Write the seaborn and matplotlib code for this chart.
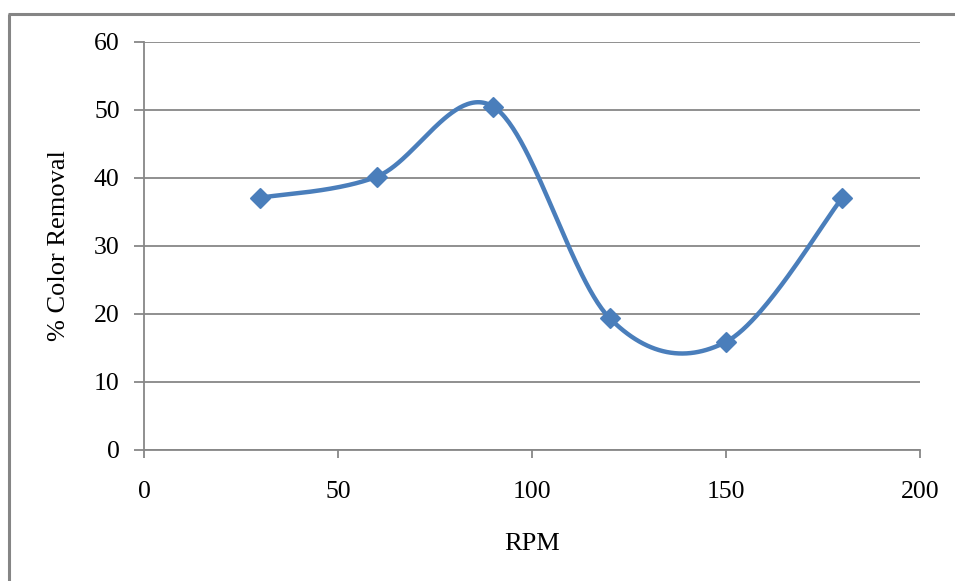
import numpy as np
import pandas as pd
import matplotlib
matplotlib.use("Agg")
import matplotlib.pyplot as plt
from matplotlib.lines import Line2D
import seaborn as sns

# Measured colour removal at each stirring speed
rpm = [30, 60, 90, 120, 150, 180]
color_removal = [37.1, 40.2, 50.5, 19.4, 15.9, 37.1]

x_ticks = [0, 50, 100, 150, 200]
y_ticks = [0, 10, 20, 30, 40, 50, 60]

LINE_BLUE = "#4A7EBB"
GRID_GRAY = "#878787"


def smooth_curve(xs, ys, n=60):
    """Catmull-Rom style Bezier smoothing through every data point."""
    pts = np.column_stack([xs, ys]).astype(float)
    padded = np.vstack([pts[0], pts, pts[-1]])
    t = np.linspace(0.0, 1.0, n)[:, None]
    out = []
    for i in range(len(pts) - 1):
        p0, p1, p2, p3 = padded[i], padded[i + 1], padded[i + 2], padded[i + 3]
        c1 = p1 + (p2 - p0) / 6.0
        c2 = p2 - (p3 - p1) / 6.0
        seg = ((1 - t) ** 3) * p1 + 3 * ((1 - t) ** 2) * t * c1 \
            + 3 * (1 - t) * t ** 2 * c2 + t ** 3 * p2
        out.append(seg if i == 0 else seg[1:])
    return np.vstack(out)


sns.set_theme(style="white")
plt.rcParams["font.family"] = ["Liberation Serif", "DejaVu Serif"]

fig = plt.figure(figsize=(9.55, 5.81), dpi=100)
ax = fig.add_axes([144 / 955, 1 - 450 / 581, 776 / 955, 408 / 581])

curve = smooth_curve(rpm, color_removal)
curve_df = pd.DataFrame({"RPM": curve[:, 0], "removal": curve[:, 1]})
points_df = pd.DataFrame({"RPM": rpm, "removal": color_removal})

sns.lineplot(data=curve_df, x="RPM", y="removal", sort=False, ax=ax,
             color=LINE_BLUE, linewidth=3.2, zorder=3)
sns.scatterplot(data=points_df, x="RPM", y="removal", ax=ax, marker="D",
                s=95, color=LINE_BLUE, edgecolor=LINE_BLUE, linewidth=1.4,
                zorder=4)

ax.set_xlim(0, 200)
ax.set_ylim(0, 60)
ax.set_xticks(x_ticks)
ax.set_yticks(y_ticks)
ax.set_xticklabels([str(v) for v in x_ticks])
ax.set_yticklabels([str(v) for v in y_ticks])

ax.grid(axis="y", color=GRID_GRAY, linewidth=1.3)
ax.grid(axis="x", visible=False)
ax.set_axisbelow(True)

for side in ("top", "right"):
    ax.spines[side].set_visible(False)
for side in ("left", "bottom"):
    ax.spines[side].set_color(GRID_GRAY)
    ax.spines[side].set_linewidth(1.3)

ax.tick_params(axis="y", direction="out", length=7.5, width=1.3,
               color=GRID_GRAY, pad=10, labelsize=18.5, labelcolor="black",
               left=True)
ax.tick_params(axis="x", direction="out", length=6, width=1.3,
               color=GRID_GRAY, pad=16, labelsize=18.5, labelcolor="black",
               bottom=True)

ax.set_xlabel("RPM", fontsize=19, color="black", labelpad=22)
ax.set_ylabel("% Color Removal", fontsize=19, color="black", labelpad=17)

# Chart-area border along the top and left edges
frame_kw = dict(color="#858585", linewidth=2.2, transform=fig.transFigure,
                solid_capstyle="butt")
fig.add_artist(Line2D([7.5 / 955, 1.0], [1 - 13.5 / 581, 1 - 13.5 / 581],
                      **frame_kw))
fig.add_artist(Line2D([8.5 / 955, 8.5 / 955], [1 - 13.5 / 581, 0.0],
                      **frame_kw))

fig.savefig("out.png", dpi=100, facecolor="white")
